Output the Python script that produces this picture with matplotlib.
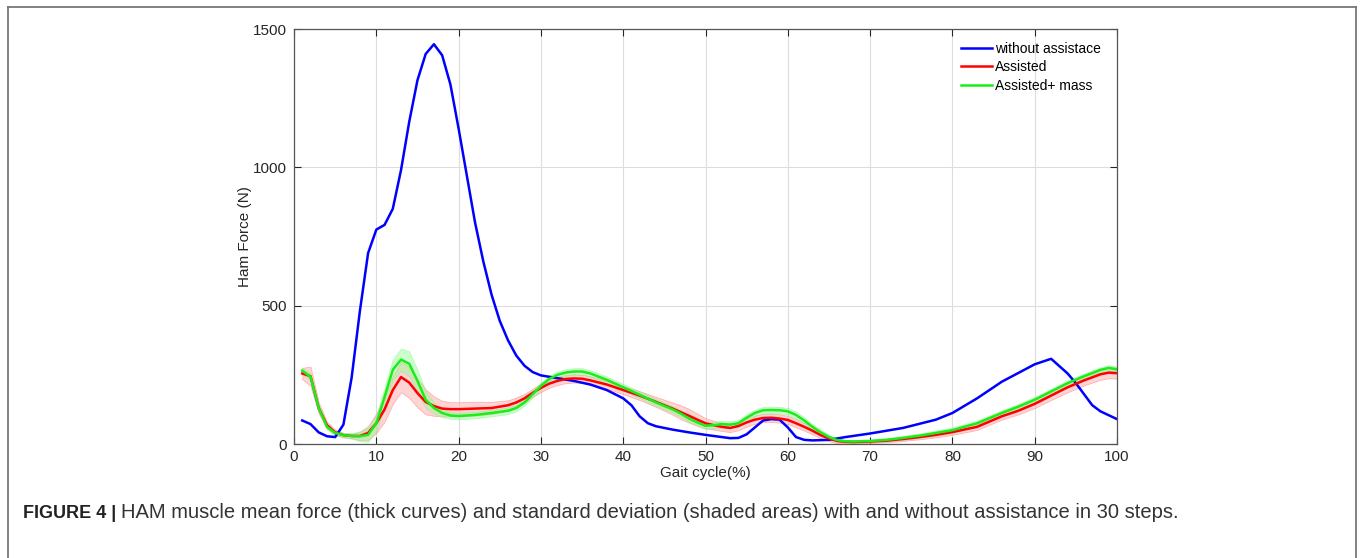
import matplotlib
matplotlib.use("Agg")
import matplotlib.pyplot as plt
import numpy as np
from matplotlib.lines import Line2D

plt.rcParams["font.family"] = ["Liberation Sans", "DejaVu Sans"]

# HAM muscle force (N) over the gait cycle (%)
x_blue = [1, 2, 3, 4, 5, 6, 7, 8, 9, 10, 11, 12, 13, 14, 15, 16, 17, 18, 19, 20,
          21, 22, 23, 24, 25, 26, 27, 28, 29, 30, 32, 34, 36, 38, 40, 41, 42, 43, 44,
          46, 48, 50, 52, 53, 54, 55, 56, 57, 58, 59, 60, 61, 62, 63, 65, 67, 70, 74,
          78, 80, 83, 86, 90, 92, 94, 95, 97, 98, 100]
without_assist = [85, 72, 42, 28, 25, 70, 240, 480, 690, 775, 792, 850, 990, 1165, 1315,
                  1410, 1445, 1405, 1300, 1140, 970, 800, 660, 540, 445, 375, 320, 283,
                  260, 248, 238, 228, 215, 195, 165, 140, 100, 75, 64, 52, 42, 33, 25, 21,
                  22, 35, 60, 85, 90, 88, 60, 25, 15, 13, 15, 25, 38, 58, 88, 112, 165,
                  225, 288, 308, 255, 220, 140, 118, 90]

x_assist = [1, 2, 3, 4, 5, 6, 7, 8, 9, 10, 11, 12, 13, 14, 15, 16, 17, 18, 19, 20, 22,
            24, 26, 27, 28, 29, 30, 31, 32, 33, 34, 35, 36, 38, 40, 42, 44, 46, 47, 48,
            49, 50, 51, 52, 53, 54, 55, 56, 57, 58, 59, 60, 61, 62, 63, 64, 65, 66, 67,
            68, 70, 72, 74, 76, 78, 80, 83, 86, 88, 90, 92, 94, 96, 98, 99, 100]
assisted = [255, 245, 130, 68, 42, 32, 29, 29, 40, 75, 125, 195, 242, 222, 184, 152, 137,
            128, 126, 126, 128, 130, 140, 150, 165, 185, 203, 218, 228, 235, 237, 236, 230,
            215, 195, 175, 152, 128, 115, 102, 88, 75, 68, 62, 58, 65, 78, 88, 94, 95, 92,
            87, 75, 62, 48, 32, 20, 11, 8, 7, 9, 12, 18, 25, 33, 43, 62, 100, 120, 145,
            175, 205, 230, 252, 258, 256]
assisted_sd = [20, 35, 20, 12, 10, 8, 8, 15, 25, 35, 45, 50, 55, 55, 52, 45, 35, 28, 25, 25,
               25, 22, 18, 18, 16, 15, 15, 15, 15, 15, 15, 15, 15, 15, 15, 16, 18, 22, 25,
               25, 22, 18, 16, 15, 15, 15, 15, 15, 15, 15, 15, 15, 15, 14, 13, 12, 10, 8,
               6, 5, 5, 6, 7, 8, 9, 10, 11, 12, 13, 15, 16, 18, 18, 20, 20, 20]
assisted_mass = [265, 243, 130, 62, 40, 32, 29, 28, 33, 75, 170, 268, 305, 290, 228, 160,
                 130, 112, 103, 101, 105, 112, 120, 130, 150, 180, 210, 235, 250, 258, 262,
                 262, 255, 232, 205, 178, 150, 125, 110, 92, 78, 66, 68, 72, 70, 75, 95, 112,
                 122, 123, 122, 118, 105, 85, 62, 42, 25, 14, 10, 9, 11, 15, 22, 30, 40, 50,
                 75, 112, 135, 160, 190, 220, 245, 268, 275, 270]
assisted_mass_sd = [12, 12, 12, 10, 8, 8, 10, 18, 25, 30, 35, 38, 40, 45, 40, 30, 20, 15,
                    12, 12, 12, 12, 12, 12, 12, 12, 12, 12, 12, 12, 12, 12, 12, 12, 12, 12,
                    12, 12, 12, 12, 12, 12, 12, 12, 12, 12, 12, 12, 12, 12, 12, 12, 12, 12,
                    10, 10, 8, 6, 5, 5, 5, 6, 7, 8, 9, 10, 10, 10, 10, 10, 10, 10, 10, 10,
                    10, 10]

fig = plt.figure(figsize=(13.6, 5.58), dpi=100)
ax = fig.add_axes([0.2162, 0.2043, 0.6051, 0.7437])

m = np.array(assisted)
s = np.array(assisted_sd)
ax.fill_between(x_assist, m - s, m + s, facecolor=(1, 0.72, 0.72), alpha=0.6,
                edgecolor=(1, 0.55, 0.55), lw=0.6)
m2 = np.array(assisted_mass)
s2 = np.array(assisted_mass_sd)
ax.fill_between(x_assist, m2 - s2, m2 + s2, facecolor=(0.55, 1, 0.55), alpha=0.45,
                edgecolor=(0.5, 0.95, 0.5), lw=0.6)

ax.plot(x_blue, without_assist, color=(0, 0, 1), lw=1.8, label="without assistace")
ax.plot(x_assist, assisted, color=(1, 0, 0), lw=1.8, label="Assisted")
ax.plot(x_assist, assisted_mass, color=(0.1, 0.93, 0.1), lw=1.8, label="Assisted+ mass")

ax.set_xlim(0, 100)
ax.set_ylim(0, 1500)
ax.set_xticks(np.arange(0, 101, 10))
ax.set_yticks([0, 500, 1000, 1500])
ax.grid(True, color="#dddddd", lw=0.8)
ax.set_axisbelow(True)
ax.tick_params(direction="in", top=True, right=True, labelsize=11, colors="#262626",
               length=5, width=0.8, pad=5)
ax.tick_params(axis="x", pad=4)
for sp in ax.spines.values():
    sp.set_color("#555555")
    sp.set_linewidth(0.9)

ax.set_xlabel("Gait cycle(%)", fontsize=11, color="#262626", labelpad=2)
ax.set_ylabel("Ham Force (N)", fontsize=11, color="#262626", labelpad=1)

ax.legend(loc="upper left", bbox_to_anchor=(0.802, 0.985), frameon=False, fontsize=10,
          handlelength=2.2, handletextpad=0.25, labelspacing=0.3, borderpad=0)

# border around the figure panel
bc = "#777777"
fig.add_artist(Line2D([8 / 1360, 8 / 1360], [0, 1 - 7 / 558], color=bc, lw=1.3))
fig.add_artist(Line2D([8 / 1360, 1356 / 1360], [1 - 7 / 558, 1 - 7 / 558], color=bc, lw=1.3))
fig.add_artist(Line2D([1356 / 1360, 1356 / 1360], [0, 1 - 7 / 558], color=bc, lw=1.3))

# caption
t1 = fig.text(23 / 1360, 1 - 518 / 558, "FIGURE 4 |", fontsize=13, fontweight="bold",
              color="#222222", va="baseline")
fig.canvas.draw()
bb = t1.get_window_extent()
fig.text((bb.x1 + 5) / 1360, 1 - 518 / 558,
         "HAM muscle mean force (thick curves) and standard deviation (shaded areas) "
         "with and without assistance in 30 steps.",
         fontsize=14.5, color="#333333", va="baseline")

fig.savefig("out.png", dpi=100)
